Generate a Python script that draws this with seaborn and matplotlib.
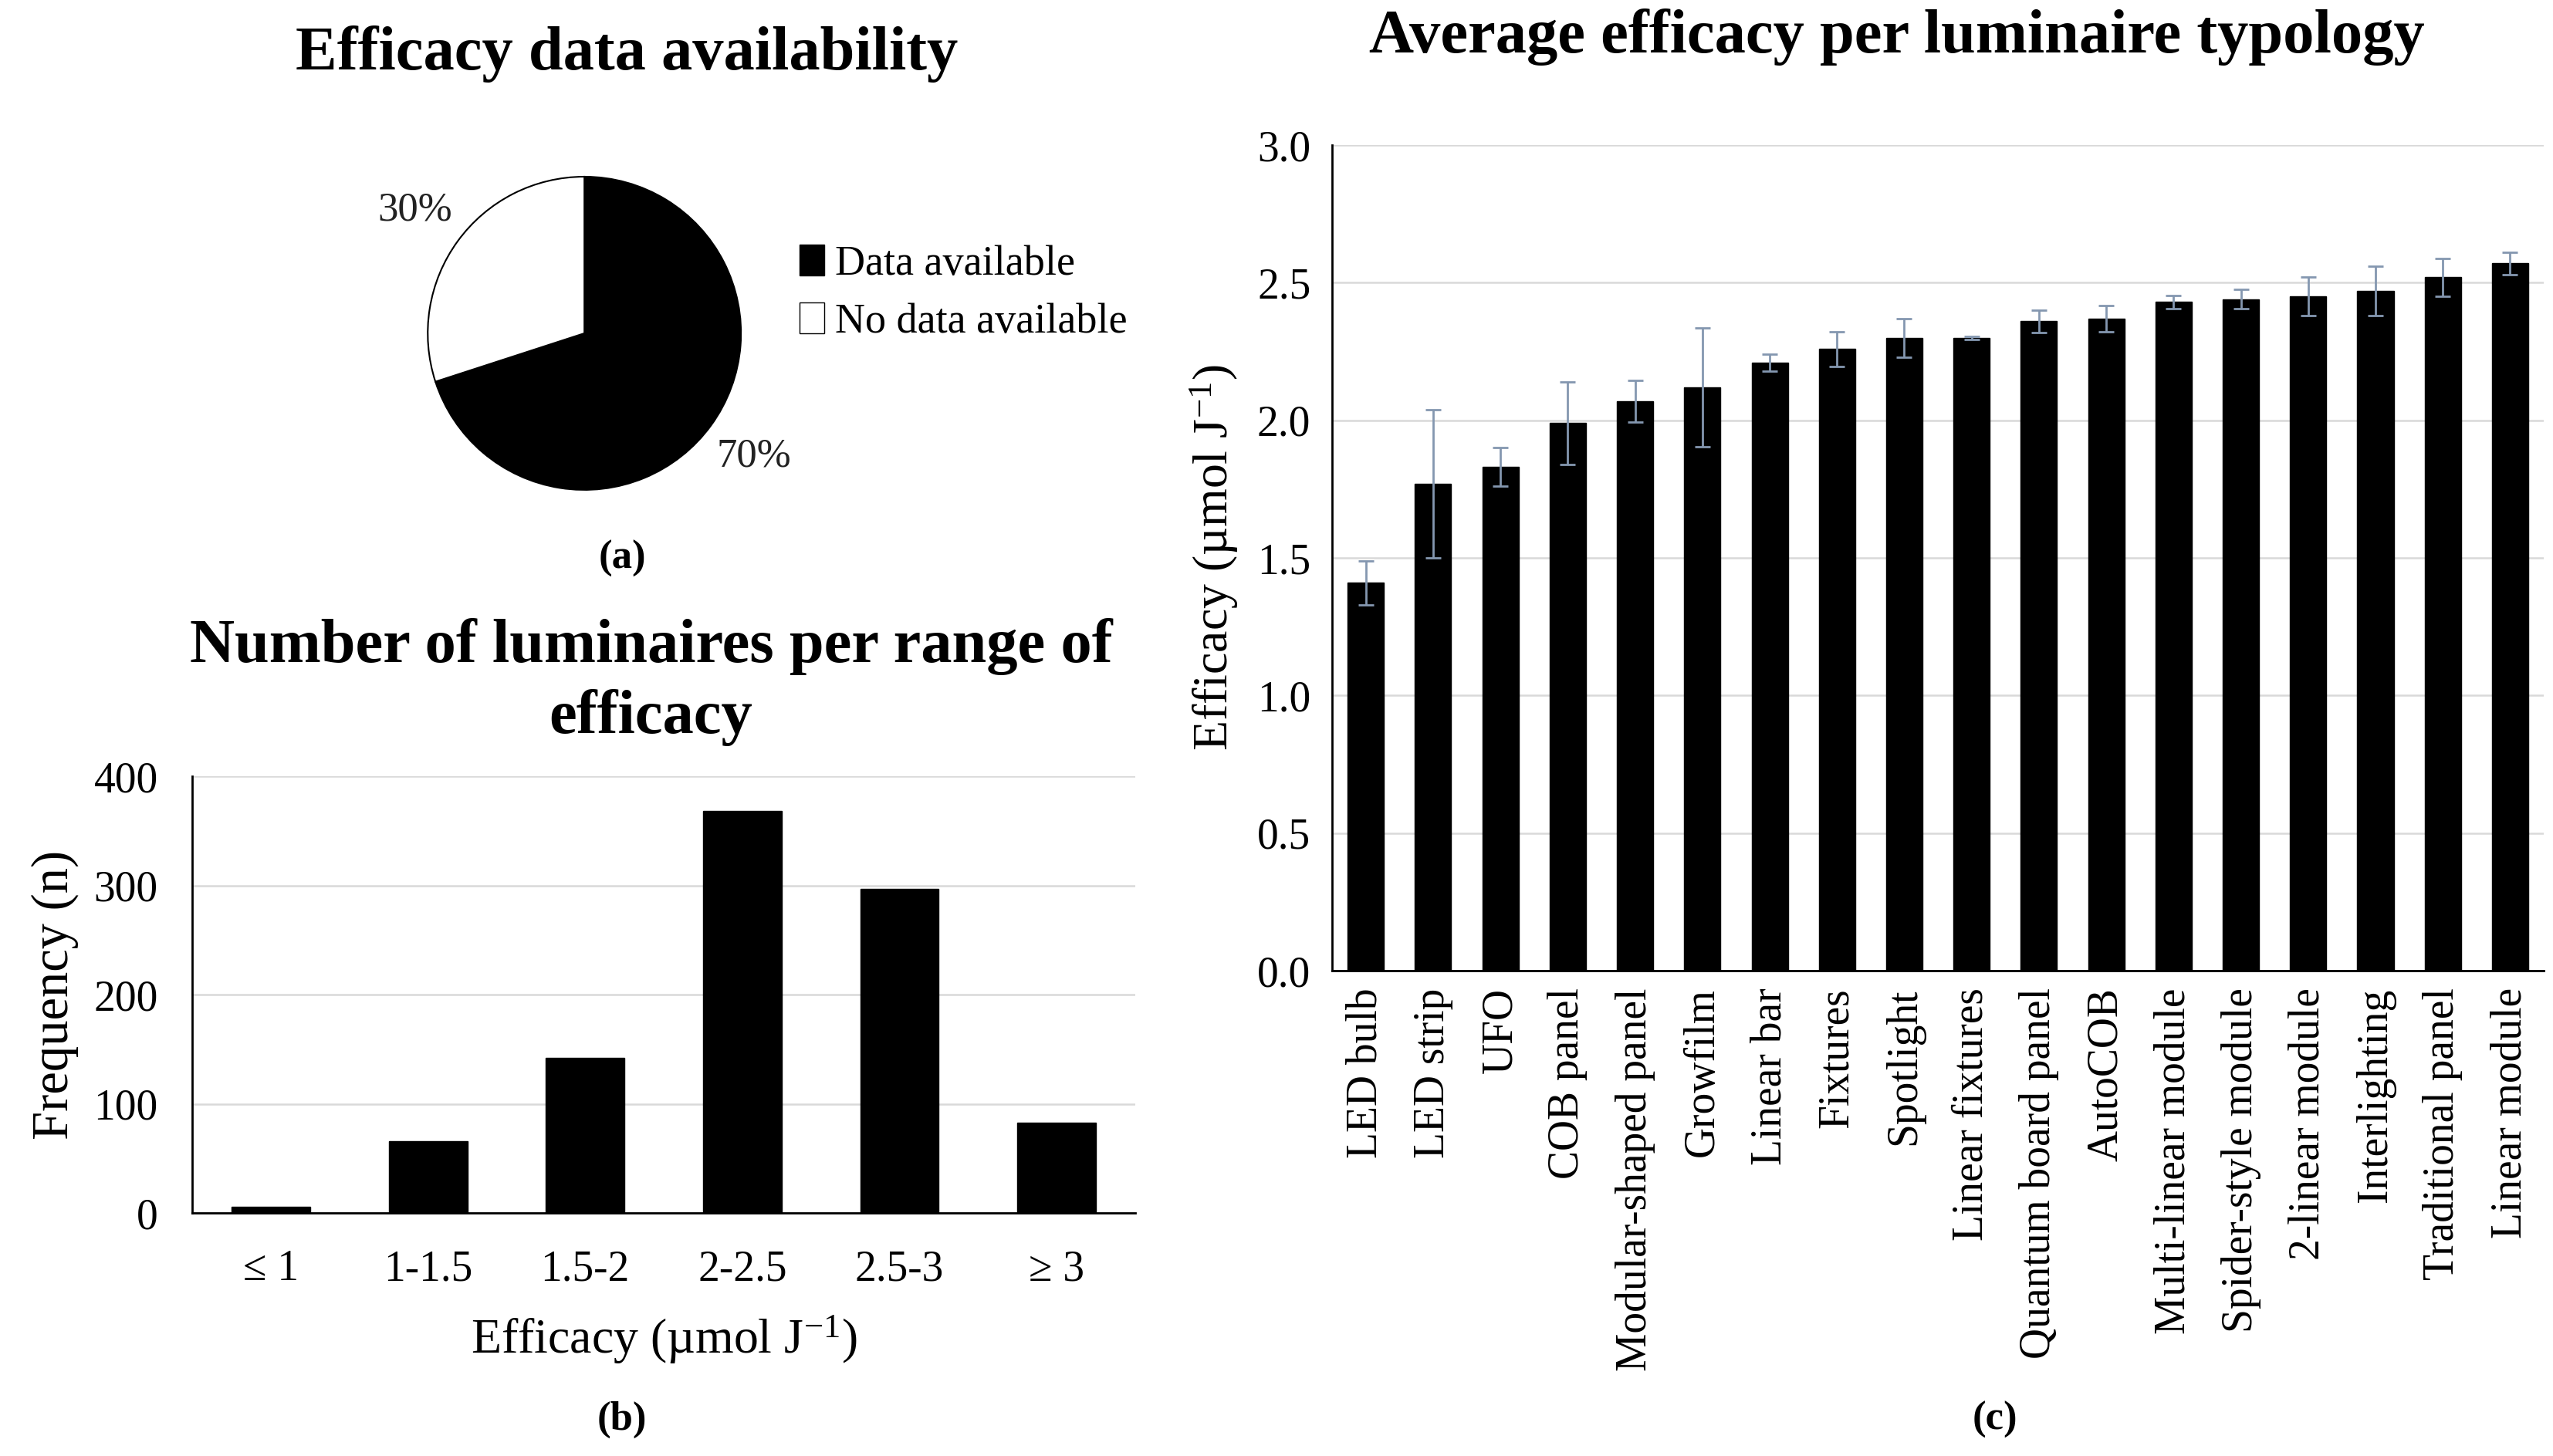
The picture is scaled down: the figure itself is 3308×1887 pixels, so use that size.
import numpy as np
import pandas as pd
import seaborn as sns
import matplotlib
matplotlib.use("Agg")
import matplotlib.pyplot as plt
from matplotlib.patches import Patch

# (a) pie data
pie_labels = ["Data available", "No data available"]
pie_values = [70, 30]

# (b) luminaires per efficacy range
ranges = ["\u2264 1", "1-1.5", "1.5-2", "2-2.5", "2.5-3", "\u2265 3"]
counts = [6, 66, 142, 368, 297, 83]

# (c) average efficacy per typology
typologies = ["LED bulb", "LED strip", "UFO", "COB panel", "Modular-shaped panel",
              "Growfilm", "Linear bar", "Fixtures", "Spotlight", "Linear fixtures",
              "Quantum board panel", "AutoCOB", "Multi-linear module",
              "Spider-style module", "2-linear module", "Interlighting",
              "Traditional panel", "Linear module"]
efficacy = [1.41, 1.77, 1.83, 1.99, 2.07, 2.12, 2.21, 2.26, 2.30, 2.30,
            2.36, 2.37, 2.43, 2.44, 2.45, 2.47, 2.52, 2.57]
efficacy_err = [0.08, 0.27, 0.07, 0.15, 0.075, 0.215, 0.03, 0.063, 0.07, 0.005,
                0.04, 0.047, 0.024, 0.035, 0.07, 0.09, 0.068, 0.04]

sns.set_theme(style="white")
plt.rcParams["font.family"] = ["Liberation Serif", "DejaVu Serif"]
plt.rcParams["mathtext.fontset"] = "custom"
plt.rcParams["mathtext.rm"] = "Liberation Serif"
plt.rcParams["mathtext.default"] = "regular"
plt.rcParams["text.color"] = "black"
plt.rcParams["axes.labelcolor"] = "black"

grid_col = "#d9d9d9"
err_col = "#8497b0"
unit_label = "Efficacy (\u00b5mol J$^{-1}$)"
title_size = 58

fig = plt.figure(figsize=(33.08, 18.87), dpi=100)
fig.patch.set_facecolor("white")

# ---- (a) pie ----
ax_a = fig.add_axes([0.1663, 0.6614, 0.1252, 0.2194])
wedges, _, autotexts = ax_a.pie(pie_values, colors=["black", "white"], startangle=90,
                                counterclock=False, autopct="%d%%", pctdistance=1.34,
                                wedgeprops=dict(edgecolor="black", linewidth=1.5))
for t in autotexts:
    t.set_fontsize(38)
    t.set_color("#222222")
ax_a.set_xlim(-1.02, 1.02)
ax_a.set_ylim(-1.02, 1.02)
handles = [Patch(facecolor="black", edgecolor="black"),
           Patch(facecolor="white", edgecolor="black")]
ax_a.legend(handles, pie_labels, loc="center left", bbox_to_anchor=(1.12, 0.625),
            frameon=False, fontsize=39, handlelength=0.6, handleheight=0.75,
            handletextpad=0.25, labelspacing=0.45, borderaxespad=0)
fig.text(0.2455, 0.9629, "Efficacy data availability", ha="center", va="center",
         fontsize=title_size, fontweight="bold")
fig.text(0.2437, 0.6163, "(a)", ha="center", va="center", fontsize=38, fontweight="bold")

# ---- (b) histogram-like bar chart ----
ax_b = fig.add_axes([0.0753, 0.1669, 0.3694, 0.2999])
df_b = pd.DataFrame({"range": ranges, "count": counts})
sns.barplot(data=df_b, x="range", y="count", color="black", width=0.5,
            edgecolor="black", ax=ax_b, zorder=3)
ax_b.set_ylim(0, 400)
ax_b.set_yticks([0, 100, 200, 300, 400])
ax_b.yaxis.grid(True, color=grid_col, linewidth=1.8, zorder=0)
ax_b.set_axisbelow(True)
for s in ["top", "right"]:
    ax_b.spines[s].set_visible(False)
ax_b.spines["left"].set_color("black")
ax_b.spines["bottom"].set_color("black")
ax_b.spines["left"].set_linewidth(2)
ax_b.spines["bottom"].set_linewidth(2)
ax_b.tick_params(axis="both", length=0, labelsize=40, colors="black")
ax_b.tick_params(axis="y", pad=32)
ax_b.tick_params(axis="x", pad=34)
ax_b.set_xlabel(unit_label, fontsize=46, labelpad=22)
ax_b.set_ylabel("Frequency (n)", fontsize=48, labelpad=14)
fig.text(0.255, 0.5315, "Number of luminaires per range of\nefficacy", ha="center",
         va="center", fontsize=title_size, fontweight="bold", linespacing=1.33)
fig.text(0.2437, 0.0249, "(b)", ha="center", va="center", fontsize=38, fontweight="bold")

# ---- (c) average efficacy per typology ----
ax_c = fig.add_axes([0.5218, 0.3333, 0.4746, 0.567])
df_c = pd.DataFrame({"typology": typologies, "efficacy": efficacy})
sns.barplot(data=df_c, x="typology", y="efficacy", color="black", width=0.54,
            edgecolor="black", ax=ax_c, zorder=3)
ax_c.errorbar(np.arange(len(typologies)), efficacy, yerr=efficacy_err, fmt="none",
              ecolor=err_col, elinewidth=2, capsize=7, capthick=2, zorder=4)
ax_c.set_ylim(0, 3.0)
ax_c.set_yticks(np.arange(0, 3.01, 0.5))
ax_c.set_yticklabels([f"{v:.1f}" for v in np.arange(0, 3.01, 0.5)])
ax_c.set_xlim(-0.5, len(typologies) - 0.5)
ax_c.yaxis.grid(True, color=grid_col, linewidth=1.8, zorder=0)
ax_c.set_axisbelow(True)
for s in ["top", "right"]:
    ax_c.spines[s].set_visible(False)
ax_c.spines["left"].set_color("black")
ax_c.spines["bottom"].set_color("black")
ax_c.spines["left"].set_linewidth(2)
ax_c.spines["bottom"].set_linewidth(2)
ax_c.tick_params(axis="both", length=0, labelsize=40, colors="black")
ax_c.tick_params(axis="y", pad=20)
ax_c.tick_params(axis="x", pad=16, labelrotation=90)
ax_c.set_xlabel("")
ax_c.set_ylabel(unit_label, fontsize=46, labelpad=16)
fig.text(0.743, 0.9745, "Average efficacy per luminaire typology", ha="center",
         va="center", fontsize=title_size, fontweight="bold")
fig.text(0.7814, 0.0249, "(c)", ha="center", va="center", fontsize=38, fontweight="bold")

fig.savefig("out.png", dpi=100, facecolor="white")
